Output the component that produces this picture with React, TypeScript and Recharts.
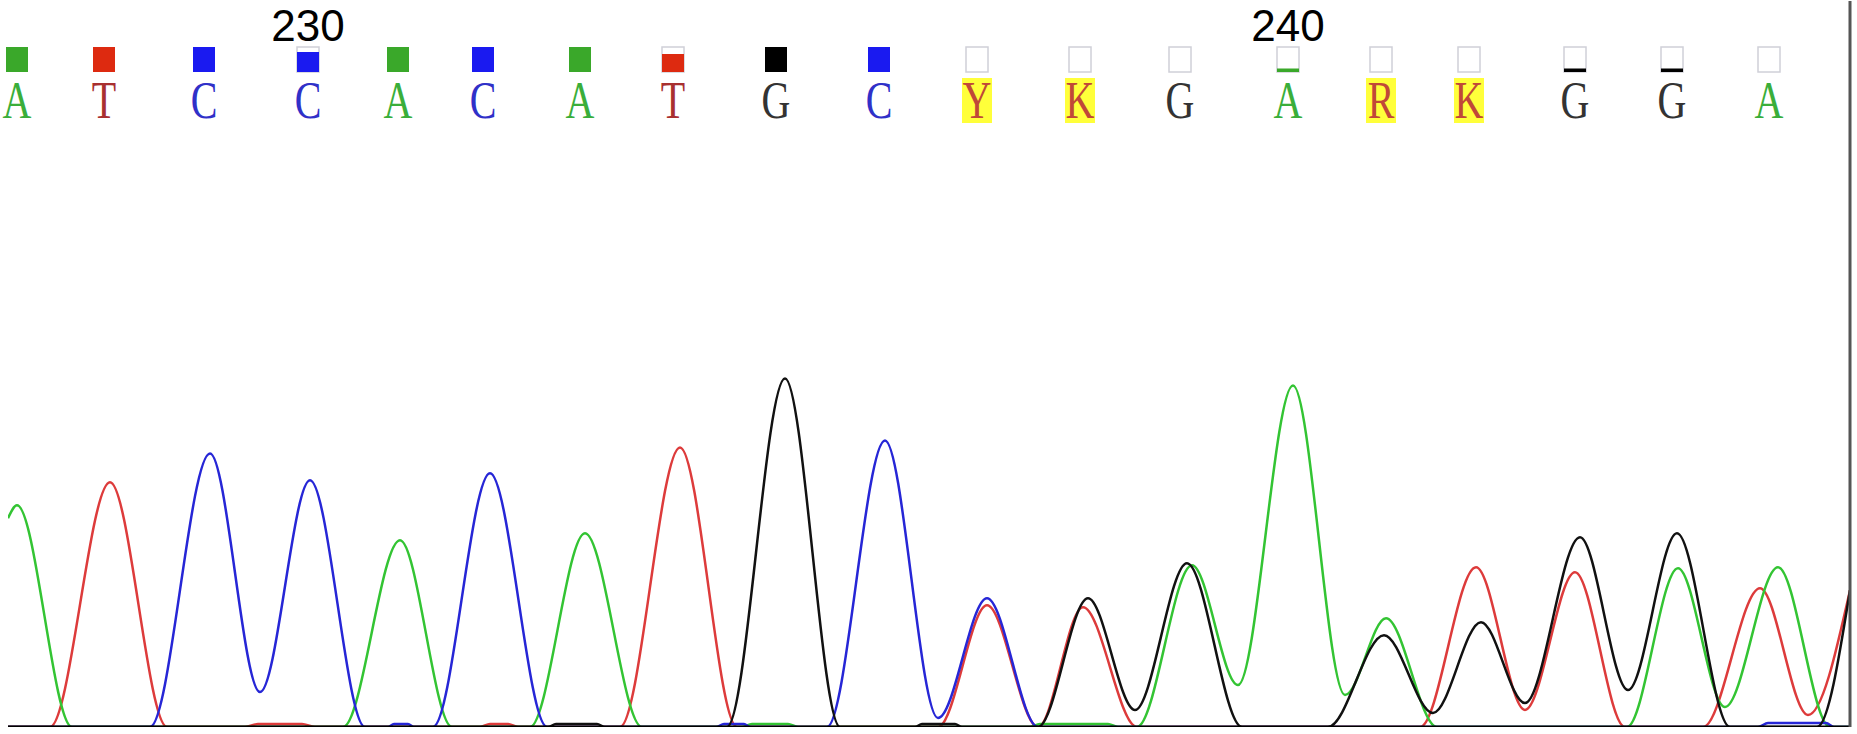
import React from 'react';
import { LineChart, Line, XAxis, YAxis, ReferenceLine } from 'recharts';

// base calls shown above the traces (first one is base 227)
const bases = ['A', 'T', 'C', 'C', 'A', 'C', 'A', 'T', 'G', 'C', 'Y', 'K', 'G', 'A', 'R', 'K', 'G', 'G', 'A'];
const basePositions = [17, 104, 204, 308, 398, 483, 580, 673, 776, 879, 977, 1080, 1180, 1288, 1381, 1469, 1575, 1672, 1769];
const baseQuality = [1, 1, 1, 0.8, 1, 1, 1, 0.72, 1, 1, 0, 0, 0, 0.14, 0, 0, 0.14, 0.14, 0];
const numberLabels = ['230', '240'];
const numberLabelBases = [3, 13];

// traces: scan point / signal
const traceT = [
  { scan: 8, rfu: 0 }, { scan: 50, rfu: 0 }, { scan: 110, rfu: 245 }, { scan: 167, rfu: 0 },
  { scan: 245, rfu: 0 }, { scan: 258, rfu: 3 }, { scan: 302, rfu: 3 }, { scan: 315, rfu: 0 },
  { scan: 480, rfu: 0 }, { scan: 490, rfu: 3 }, { scan: 508, rfu: 3 }, { scan: 518, rfu: 0 },
  { scan: 620, rfu: 0 }, { scan: 680, rfu: 280 }, { scan: 737, rfu: 0 },
  { scan: 938, rfu: 0 }, { scan: 987, rfu: 122 }, { scan: 1038, rfu: 0 },
  { scan: 1083, rfu: 120 }, { scan: 1137, rfu: 0 },
  { scan: 1420, rfu: 0 }, { scan: 1476, rfu: 160 }, { scan: 1525, rfu: 17 },
  { scan: 1575, rfu: 155 }, { scan: 1625, rfu: 0 },
  { scan: 1703, rfu: 0 }, { scan: 1760, rfu: 139 }, { scan: 1808, rfu: 12 }, { scan: 1850, rfu: 137 },
];

const traceA = [
  { scan: 8, rfu: 209 }, { scan: 17, rfu: 222 }, { scan: 72, rfu: 0 },
  { scan: 343, rfu: 0 }, { scan: 400, rfu: 187 }, { scan: 452, rfu: 0 },
  { scan: 530, rfu: 0 }, { scan: 585, rfu: 194 }, { scan: 642, rfu: 0 },
  { scan: 742, rfu: 0 }, { scan: 752, rfu: 3 }, { scan: 788, rfu: 3 }, { scan: 798, rfu: 0 },
  { scan: 1030, rfu: 0 }, { scan: 1040, rfu: 3 }, { scan: 1108, rfu: 3 }, { scan: 1118, rfu: 0 },
  { scan: 1137, rfu: 0 }, { scan: 1192, rfu: 162 }, { scan: 1238, rfu: 42 },
  { scan: 1293, rfu: 342 }, { scan: 1345, rfu: 32 }, { scan: 1386, rfu: 109 }, { scan: 1437, rfu: 0 },
  { scan: 1627, rfu: 0 }, { scan: 1678, rfu: 159 }, { scan: 1725, rfu: 20 },
  { scan: 1778, rfu: 160 }, { scan: 1830, rfu: 0 }, { scan: 1850, rfu: 0 },
];

const traceC = [
  { scan: 8, rfu: 0 }, { scan: 150, rfu: 0 }, { scan: 210, rfu: 274 }, { scan: 260, rfu: 35 },
  { scan: 310, rfu: 247 }, { scan: 365, rfu: 0 },
  { scan: 388, rfu: 0 }, { scan: 394, rfu: 3 }, { scan: 408, rfu: 3 }, { scan: 414, rfu: 0 },
  { scan: 433, rfu: 0 }, { scan: 490, rfu: 254 }, { scan: 547, rfu: 0 },
  { scan: 716, rfu: 0 }, { scan: 724, rfu: 3 }, { scan: 744, rfu: 3 }, { scan: 750, rfu: 0 },
  { scan: 827, rfu: 0 }, { scan: 885, rfu: 287 }, { scan: 938, rfu: 9 },
  { scan: 987, rfu: 129 }, { scan: 1038, rfu: 0 },
  { scan: 1758, rfu: 0 }, { scan: 1768, rfu: 4 }, { scan: 1826, rfu: 4 }, { scan: 1834, rfu: 0 },
  { scan: 1850, rfu: 0 },
];

const traceG = [
  { scan: 8, rfu: 0 }, { scan: 548, rfu: 0 }, { scan: 556, rfu: 3 }, { scan: 597, rfu: 3 }, { scan: 605, rfu: 0 },
  { scan: 727, rfu: 0 }, { scan: 785, rfu: 349 }, { scan: 840, rfu: 0 },
  { scan: 915, rfu: 0 }, { scan: 922, rfu: 3 }, { scan: 955, rfu: 3 }, { scan: 962, rfu: 0 },
  { scan: 1038, rfu: 0 }, { scan: 1088, rfu: 129 }, { scan: 1135, rfu: 17 },
  { scan: 1187, rfu: 164 }, { scan: 1242, rfu: 0 },
  { scan: 1328, rfu: 0 }, { scan: 1384, rfu: 92 }, { scan: 1433, rfu: 14 },
  { scan: 1481, rfu: 105 }, { scan: 1525, rfu: 24 }, { scan: 1580, rfu: 190 },
  { scan: 1628, rfu: 37 }, { scan: 1677, rfu: 194 }, { scan: 1730, rfu: 0 },
  { scan: 1817, rfu: 0 }, { scan: 1850, rfu: 137 },
];

const baseline = [{ scan: 8, rfu: 0 }, { scan: 1850, rfu: 0 }];

const squareColors: Record<string, string> = { A: '#3aa82a', T: '#dd2a10', C: '#1a1af0', G: '#000000' };
const letterColors: Record<string, string> = { A: '#3aae3a', T: '#a83030', C: '#3030c8', G: '#333333' };

const BaseTick = (props: any) => {
  const { x, payload } = props;
  const i = basePositions.indexOf(payload.value);
  if (i < 0) return null;
  const b = bases[i];
  const q = baseQuality[i];
  const ambiguous = !(b in squareColors);
  const sq = squareColors[b] ?? '#000';
  const numIdx = numberLabelBases.indexOf(i);
  return (
    <g>
      {numIdx >= 0 && (
        <text x={x} y={41} textAnchor="middle" fontFamily="'Liberation Sans', Arial" fontSize={44} fill="#000">
          {numberLabels[numIdx]}
        </text>
      )}
      {q < 1 && <rect x={x - 11} y={47} width={22} height={25} fill="#fff" stroke="#cfd0d8" strokeWidth={1.5} />}
      {q > 0 && <rect x={x - 11} y={47 + 25 * (1 - q)} width={22} height={25 * q} fill={sq} />}
      {ambiguous && <rect x={x - 15} y={78} width={30} height={45} fill="#ffff3a" />}
      <g transform={`translate(${x},118) scale(1,1.3)`}>
        <text textAnchor="middle" fontFamily="'Liberation Serif', serif" fontSize={40}
          fill={ambiguous ? '#c04838' : letterColors[b]}>
          {b}
        </text>
      </g>
    </g>
  );
};

export default function App() {
  return (
    <div style={{ position: 'absolute', left: 0, top: 0, width: 1857, height: 734, background: '#fff' }}>
      <LineChart width={1857} height={734} margin={{ top: 0, right: 7, bottom: 7, left: 8 }}>
        <XAxis
          dataKey="scan"
          type="number"
          orientation="top"
          domain={[8, 1850]}
          allowDataOverflow
          ticks={basePositions}
          interval={0}
          height={1}
          axisLine={false}
          tickLine={false}
          tick={<BaseTick />}
        />
        <YAxis type="number" domain={[0, 727]} allowDataOverflow hide />
        <Line data={traceT} dataKey="rfu" type="monotone" stroke="#dd3b3b" strokeWidth={2.5} dot={false} isAnimationActive={false} />
        <Line data={traceA} dataKey="rfu" type="monotone" stroke="#33c433" strokeWidth={2.5} dot={false} isAnimationActive={false} />
        <Line data={traceC} dataKey="rfu" type="monotone" stroke="#2626d6" strokeWidth={2.5} dot={false} isAnimationActive={false} />
        <Line data={traceG} dataKey="rfu" type="monotone" stroke="#111111" strokeWidth={2.5} dot={false} isAnimationActive={false} />
        <Line data={baseline} dataKey="rfu" type="linear" stroke="#000" strokeWidth={3} dot={false} isAnimationActive={false} />
        <ReferenceLine x={1850} stroke="#555" strokeWidth={3} />
      </LineChart>
    </div>
  );
}
